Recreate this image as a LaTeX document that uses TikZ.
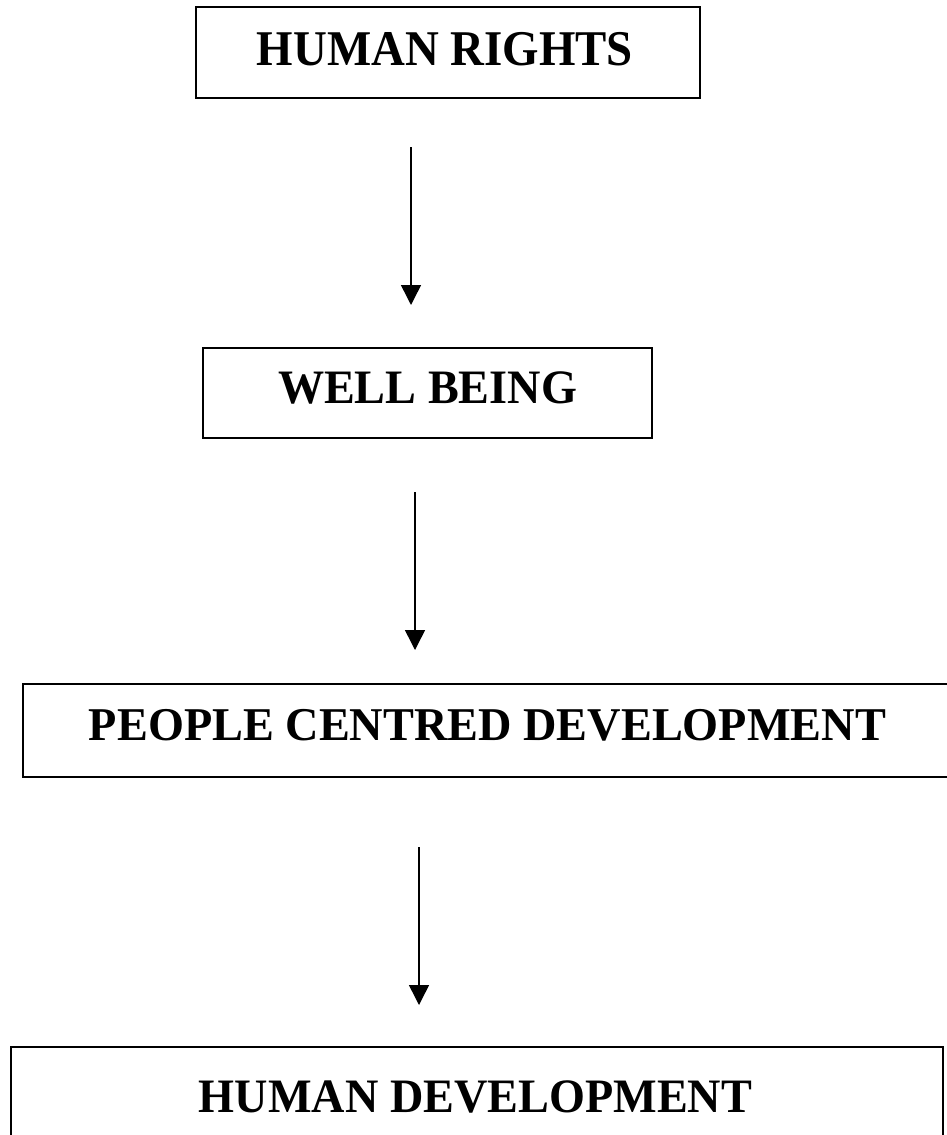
\documentclass[tikz,border=0pt]{standalone}
\usepackage{fontspec}
\setmainfont{Liberation Serif}
\usetikzlibrary{arrows.meta}
\begin{document}
\begin{tikzpicture}[x=1pt,y=1pt,
  boxframe/.style={draw=black,line width=1.6pt},
  label/.style={inner sep=0pt,anchor=base,font=\bfseries},
  flow/.style={line width=1.5pt,-{Triangle[width=20pt,length=20pt]}}]
\useasboundingbox (0,0) rectangle (947,-1135);
\clip (0,0) rectangle (947,-1135);
% boxes
\draw[boxframe] (196,-7) rectangle (700,-98);
\node[inner sep=0pt] (b1) at (448,-52.5) {};
\draw[boxframe] (203,-348) rectangle (652,-438);
\node[inner sep=0pt] (b2) at (427.5,-393) {};
\draw[boxframe] (23,-684) rectangle (965,-777);
\node[inner sep=0pt] (b3) at (487,-730) {};
\draw[boxframe] (11,-1047) rectangle (943,-1160);
\node[inner sep=0pt] (b4) at (477,-1100) {};
% texts
\node[label] (t1) at (445,-65) {\fontsize{50}{50}\selectfont\resizebox{376pt}{\height}{HUMAN RIGHTS}};
\node[label] (t2) at (427.5,-403) {\fontsize{48}{48}\selectfont\resizebox{299pt}{\height}{WELL BEING}};
\node[label] (t3) at (487.5,-740) {\fontsize{47}{47}\selectfont\resizebox{797pt}{\height}{PEOPLE CENTRED DEVELOPMENT}};
\node[label] (t4) at (475.5,-1112) {\fontsize{48}{48}\selectfont\resizebox{553pt}{\height}{HUMAN DEVELOPMENT}};
% arrows
\coordinate (a1s) at (411,-147);
\coordinate (a1e) at (411,-305);
\coordinate (a2s) at (415,-492);
\coordinate (a2e) at (415,-650);
\coordinate (a3s) at (419,-847);
\coordinate (a3e) at (419,-1005);
\draw[flow] (a1s) -- (a1e);
\draw[flow] (a2s) -- (a2e);
\draw[flow] (a3s) -- (a3e);
\end{tikzpicture}
\end{document}
